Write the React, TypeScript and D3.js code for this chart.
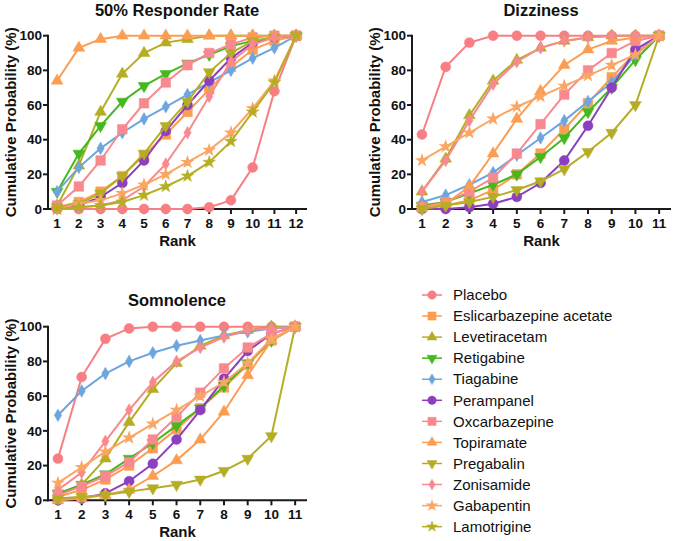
import React from "react";
import * as d3 from "d3";

const drugs = [
  "Placebo",
  "Eslicarbazepine acetate",
  "Levetiracetam",
  "Retigabine",
  "Tiagabine",
  "Perampanel",
  "Oxcarbazepine",
  "Topiramate",
  "Pregabalin",
  "Zonisamide",
  "Gabapentin",
  "Lamotrigine",
];
const drugColors = [
  "#F77F84", "#FB9D52", "#B5AD24", "#44B81E", "#6DA5DE", "#8C3FBF",
  "#F8898E", "#FB9D52", "#B5AD24", "#F8898E", "#FBA664", "#B5AD24",
];
const drugShapes = [
  "circle", "square", "triUp", "triDown", "diamond", "circle",
  "square", "triUp", "triDown", "diamond", "gaba", "star",
];

const yTicks = [0, 20, 40, 60, 80, 100];
const responderRanks = [1, 2, 3, 4, 5, 6, 7, 8, 9, 10, 11, 12];
const dizzinessRanks = [1, 2, 3, 4, 5, 6, 7, 8, 9, 10, 11];
const somnolenceRanks = [1, 2, 3, 4, 5, 6, 7, 8, 9, 10, 11];

// values in drug order (empty = drug not in that outcome)
const responderValues = [
  [0, 0, 0, 0, 0, 0, 0, 1, 5, 24, 68, 100],
  [1, 4, 10, 19, 31, 43, 56, 69, 82, 92, 97, 100],
  [2, 25, 56, 78, 90, 96, 98, 100, 100, 100, 100, 100],
  [10, 32, 48, 62, 71, 78, 84, 89, 94, 97, 99, 100],
  [10, 24, 35, 44, 52, 59, 66, 73, 80, 87, 93, 100],
  [1, 2, 7, 15, 28, 45, 60, 74, 87, 96, 99, 100],
  [2, 13, 28, 46, 61, 73, 83, 90, 95, 99, 100, 100],
  [74, 93, 98, 100, 100, 100, 100, 100, 100, 100, 100, 100],
  [1, 3, 9, 19, 32, 48, 62, 79, 90, 97, 99, 100],
  [0, 1, 2, 5, 13, 26, 44, 65, 85, 95, 99, 100],
  [0, 3, 5, 9, 14, 20, 27, 34, 44, 58, 74, 100],
  [0, 1, 2, 4, 8, 13, 19, 27, 39, 56, 73, 100],
];
const dizzinessValues = [
  [43, 82, 96, 100, 100, 100, 100, 100, 100, 100, 100],
  [1, 2, 5, 11, 20, 32, 46, 61, 76, 90, 100],
  [10, 29, 54, 74, 86, 93, 97, 99, 100, 100, 100],
  [2, 4, 9, 14, 20, 30, 41, 56, 70, 86, 100],
  [4, 8, 14, 21, 31, 41, 51, 62, 73, 89, 100],
  [0, 0, 1, 3, 7, 15, 28, 48, 70, 92, 100],
  [1, 4, 10, 18, 32, 49, 66, 80, 90, 97, 100],
  [1, 3, 13, 32, 52, 68, 83, 92, 97, 99, 100],
  [0, 2, 4, 7, 11, 16, 23, 33, 44, 60, 100],
  [10, 28, 51, 72, 85, 93, 97, 99, 100, 100, 100],
  [28, 36, 44, 52, 59, 65, 71, 77, 83, 89, 100],
  [],
];
const somnolenceValues = [
  [24, 71, 93, 99, 100, 100, 100, 100, 100, 100, 100],
  [2, 6, 12, 20, 30, 41, 53, 65, 78, 92, 100],
  [3, 9, 24, 45, 64, 79, 89, 95, 98, 100, 100],
  [4, 9, 15, 24, 33, 43, 53, 66, 79, 92, 100],
  [49, 63, 73, 80, 85, 89, 92, 95, 97, 99, 100],
  [0, 1, 4, 11, 21, 35, 52, 70, 86, 96, 100],
  [3, 8, 14, 22, 35, 48, 62, 76, 88, 96, 100],
  [0, 1, 3, 6, 14, 23, 35, 51, 72, 92, 100],
  [1, 2, 3, 5, 7, 9, 12, 17, 24, 37, 100],
  [6, 16, 34, 52, 68, 80, 88, 94, 98, 99, 100],
  [10, 19, 28, 36, 44, 52, 60, 68, 79, 93, 100],
  [],
];

const FONT = "Arial, 'Liberation Sans', Helvetica, sans-serif";
const AXIS = "#1a1a1a";

function Marker({ shape, x, y, color, scale = 1 }: { shape: string; x: number; y: number; color: string; scale?: number }) {
  const s = scale;
  let path = "";
  if (shape === "circle") path = d3.symbol(d3.symbolCircle, 78 * s * s)()!;
  else if (shape === "square") path = d3.symbol(d3.symbolSquare, 92 * s * s)()!;
  else if (shape === "triUp" || shape === "triDown") path = d3.symbol(d3.symbolTriangle, 60 * s * s)()!;
  else if (shape === "diamond") path = d3.symbol(d3.symbolDiamond, 46 * s * s)()!;
  else if (shape === "star") path = d3.symbol(d3.symbolStar, 50 * s * s)()!;
  else if (shape === "gaba") path = d3.symbol(d3.symbolStar, 34 * s * s)()!;
  const rot = shape === "triDown" ? 180 : 0;
  return (
    <path
      d={path}
      transform={`translate(${x},${y}) rotate(${rot})`}
      fill={color}
      stroke={color}
      strokeWidth={shape === "gaba" ? 1.2 : 0.5}
    />
  );
}

type PanelProps = {
  title: string;
  ranks: number[];
  values: number[][];
  left: number;
  right: number;
  top: number;
  bottom: number;
  titleX: number;
  titleY: number;
  yTitleX: number;
};

function Panel({ title, ranks, values, left, right, top, bottom, titleX, titleY, yTitleX }: PanelProps) {
  const n = ranks.length;
  const x = d3.scaleLinear().domain([0.58, n + 0.5]).range([left, right]);
  const y = d3.scaleLinear().domain([0, 100]).range([bottom, top]);
  const line = d3
    .line<number>()
    .x((_, i) => x(ranks[i]))
    .y((d) => y(d));
  return (
    <g>
      <text x={titleX} y={titleY} textAnchor="middle" fontFamily={FONT} fontWeight="bold" fontSize={16.5} fill="#111">
        {title}
      </text>
      <line x1={left} x2={left} y1={y(0) + 1} y2={y(100) - 1} stroke={AXIS} strokeWidth={2} />
      {yTicks.map((t) => (
        <g key={t}>
          <line x1={left - 5} x2={left} y1={y(t)} y2={y(t)} stroke={AXIS} strokeWidth={2} />
          <text x={left - 6} y={y(t) + 4.7} textAnchor="end" fontFamily={FONT} fontWeight="bold" fontSize={13.5} fill="#111">
            {t}
          </text>
        </g>
      ))}
      <line x1={left - 1} x2={right} y1={y(0)} y2={y(0)} stroke={AXIS} strokeWidth={2} />
      {ranks.map((r) => (
        <g key={r}>
          <line x1={x(r)} x2={x(r)} y1={y(0)} y2={y(0) + 5} stroke={AXIS} strokeWidth={2} />
          <text x={x(r)} y={y(0) + 19} textAnchor="middle" fontFamily={FONT} fontWeight="bold" fontSize={13.5} fill="#111">
            {r}
          </text>
        </g>
      ))}
      <text x={(left + right) / 2} y={y(0) + 37} textAnchor="middle" fontFamily={FONT} fontWeight="bold" fontSize={15} fill="#111">
        Rank
      </text>
      <text
        transform={`translate(${yTitleX},${(y(0) + y(100)) / 2}) rotate(-90)`}
        textAnchor="middle"
        fontFamily={FONT}
        fontWeight="bold"
        fontSize={15}
        fill="#111"
      >
        Cumulative Probability (%)
      </text>
      {values.map((vals, k) =>
        vals.length === 0 ? null : (
          <g key={k}>
            <path d={line(vals)!} fill="none" stroke={drugColors[k]} strokeWidth={2} />
            {vals.map((v, i) => (
              <Marker key={i} shape={drugShapes[k]} x={x(ranks[i])} y={y(v)} color={drugColors[k]} />
            ))}
          </g>
        )
      )}
    </g>
  );
}

function Legend({ x0, y0, step }: { x0: number; y0: number; step: number }) {
  return (
    <g>
      {drugs.map((d, i) => {
        const yy = y0 + i * step;
        return (
          <g key={d}>
            <line x1={x0} x2={x0 + 20} y1={yy} y2={yy} stroke={drugColors[i]} strokeWidth={1.5} />
            <Marker shape={drugShapes[i]} x={x0 + 10} y={yy} color={drugColors[i]} scale={0.85} />
            <text x={x0 + 31} y={yy + 5.2} fontFamily={FONT} fontSize={15} fill="#111">
              {d}
            </text>
          </g>
        );
      })}
    </g>
  );
}

export default function App() {
  return (
    <svg width={675} height={541} style={{ position: "absolute", left: 0, top: 0, background: "#fff" }}>
      <Panel title="50% Responder Rate" ranks={responderRanks} values={responderValues}
        left={48} right={307} top={35.7} bottom={209} titleX={177} titleY={15.5} yTitleX={15.5} />
      <Panel title="Dizziness" ranks={dizzinessRanks} values={dizzinessValues}
        left={412} right={671} top={35.7} bottom={209} titleX={541} titleY={15.5} yTitleX={380} />
      <Panel title="Somnolence" ranks={somnolenceRanks} values={somnolenceValues}
        left={48} right={307} top={326.7} bottom={500.3} titleX={177} titleY={306} yTitleX={15.5} />
      <Legend x0={422} y0={295} step={21.06} />
    </svg>
  );
}
